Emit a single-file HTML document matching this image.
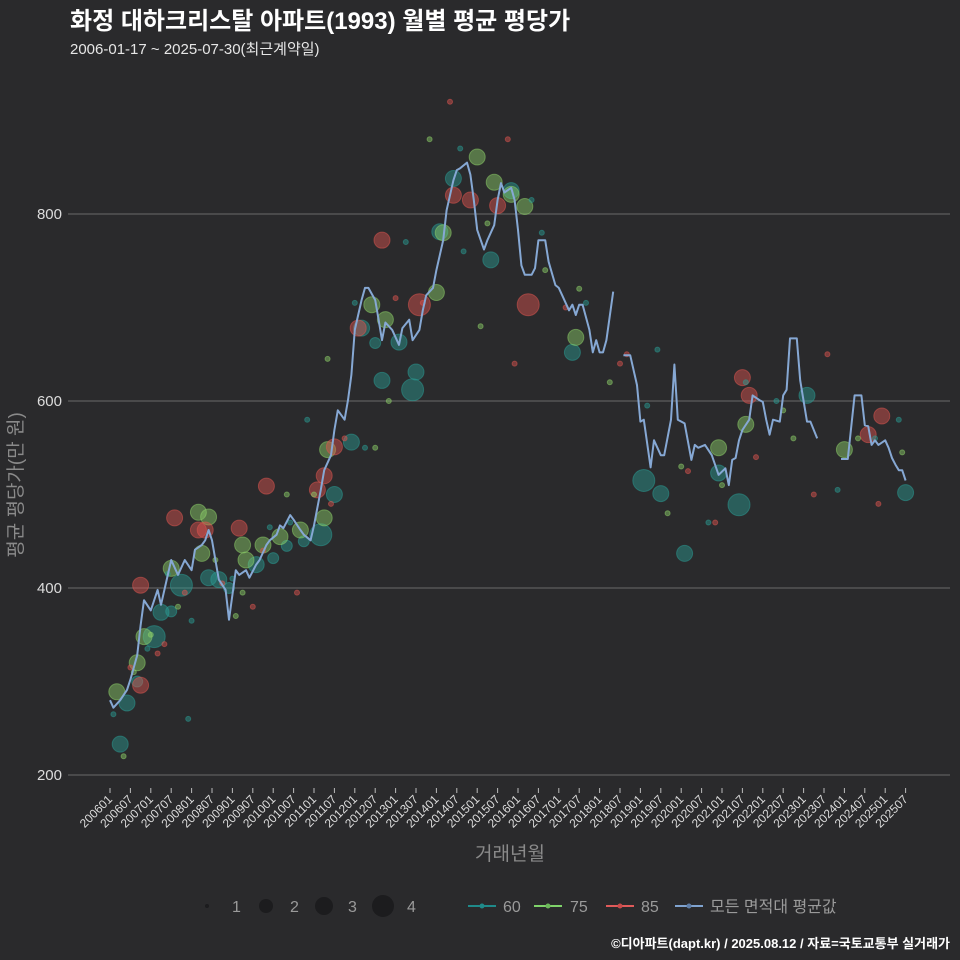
<!DOCTYPE html>
<html><head><meta charset="utf-8"><style>
html,body{margin:0;padding:0;background:#2a2a2c;}
svg{display:block;font-family:"Liberation Sans","Noto Sans CJK KR",sans-serif;}
</style></head><body>
<svg id="chart" width="960" height="960" viewBox="0 0 960 960" xmlns="http://www.w3.org/2000/svg">
<rect width="960" height="960" fill="#2a2a2c"/>
<text x="70" y="29" fill="#ffffff" font-size="24" font-weight="bold">화정 대하크리스탈 아파트(1993) 월별 평균 평당가</text>
<text x="70" y="54" fill="#e6e6e6" font-size="15">2006-01-17 ~ 2025-07-30(최근계약일)</text>
<g id="grid"></g>
<g id="yaxis"></g>
<g id="xaxis"></g>
<g id="dots"></g>
<g id="line"></g>
<text transform="translate(22,485) rotate(-90)" text-anchor="middle" fill="#8a8a8a" font-size="19">평균 평당가(만 원)</text>
<text x="510" y="860" text-anchor="middle" fill="#8a8a8a" font-size="19">거래년월</text>
<g font-size="16" fill="#9a9a9a">
  <circle cx="207" cy="906" r="2" fill="#1c1c1e"/><text x="232" y="912">1</text>
  <circle cx="266" cy="906" r="7" fill="#1c1c1e"/><text x="290" y="912">2</text>
  <circle cx="324" cy="906" r="9" fill="#1c1c1e"/><text x="348" y="912">3</text>
  <circle cx="383" cy="906" r="11" fill="#1c1c1e"/><text x="407" y="912">4</text>
  <line x1="468" y1="906" x2="496" y2="906" stroke="#1f8a8a" stroke-width="2"/><circle cx="482" cy="906" r="2.5" fill="#1f8a8a"/><text x="503" y="912">60</text>
  <line x1="534" y1="906" x2="562" y2="906" stroke="#7fd36a" stroke-width="2"/><circle cx="548" cy="906" r="2.5" fill="#6cb85a"/><text x="570" y="912">75</text>
  <line x1="606" y1="906" x2="634" y2="906" stroke="#e05a5a" stroke-width="2"/><circle cx="620" cy="906" r="2.5" fill="#c84a4a"/><text x="641" y="912">85</text>
  <line x1="675" y1="906" x2="703" y2="906" stroke="#7fa3d0" stroke-width="2"/><circle cx="689" cy="906" r="2.5" fill="#5f7ea8"/><text x="710" y="912">모든 면적대 평균값</text>
</g>
<text x="950" y="948" text-anchor="end" fill="#ffffff" font-size="13" font-weight="bold">©디아파트(dapt.kr) / 2025.08.12 / 자료=국토교통부 실거래가</text>
</svg>
<script>
const yTicks=[200,400,600,800];
const xTickLabels=[];for(let y=2006;y<=2025;y++){xTickLabels.push(y+'01');xTickLabels.push(y+'07');}
const lineMonths=[0,1,3,5,6,8,9,10,12,14,15,16,18,20,22,24,25,27,28,29,30,32,34,35,37,38,40,41,43,44,46,47,49,50,51,53,54,56,57,59,60,62,63,65,66,67,69,70,71,72,74,75,76,78,79,80,81,83,85,86,88,89,91,92,93,95,96,98,99,101,102,103,105,106,107,108,110,111,113,114,115,116,118,119,120,121,122,124,125,126,128,129,131,132,133,135,136,137,138,139,141,142,143,144,145,146,148,149,151,153,155,156,157,159,160,162,163,165,166,167,169,171,172,173,175,177,179,181,182,183,184,185,186,188,189,191,192,193,194,195,197,198,199,200,202,203,205,206,208,210,215,217,219,221,222,223,224,225,226,228,229,230,231,232,233,234];
const lineValues=[280,272,280,291,302,328,360,387,376,398,382,398,430,414,430,419,441,446,451,462,451,409,398,366,419,414,419,411,425,430,446,451,457,467,464,478,473,462,457,451,467,505,526,542,569,590,580,601,628,676,708,721,721,708,687,665,684,676,660,678,687,665,676,697,713,721,740,772,804,836,847,849,855,842,815,783,762,772,788,815,833,823,828,815,783,745,735,735,742,772,772,749,724,721,713,697,703,692,703,703,676,652,665,652,652,665,717,null,649,649,617,578,580,529,558,542,542,580,639,580,576,537,553,550,553,542,521,528,510,537,539,558,569,580,606,601,599,580,564,580,578,606,612,667,667,622,578,578,560,null,538,538,606,606,574,573,553,558,553,558,550,539,532,526,526,515];
const dotMonths=[3,5,8,13,15,18,21,29,32,35,43,48,52,57,62,66,71,74,78,80,89,90,85,97,101,112,118,136,157,162,169,179,185,205,234,
2,8,10,18,26,29,27,39,40,45,50,56,63,64,77,81,96,98,108,113,118,122,137,179,187,216,
9,9,19,26,28,38,46,61,63,66,73,80,91,101,106,114,123,186,188,223,227,
1,4,6,11,12,14,17,20,22,24,31,33,36,39,42,47,52,55,58,64,69,72,78,84,87,94,100,103,109,117,124,128,134,140,147,152,158,164,170,176,180,190,196,201,207,214,220,226,232,7,16,23,37,45,53,60,65,75,82,92,104,111,119,127,138,150,161,168,178,187,198,211,225,233];
const dotValues=[233,277,300,348,374,375,403,411,409,400,425,432,445,450,457,500,556,678,662,622,612,631,663,781,838,751,825,652,515,501,437,523,489,606,502,
289,320,348,421,481,476,437,446,430,446,455,462,475,548,703,687,716,780,861,834,821,808,668,550,575,548,
403,296,475,462,462,464,509,505,520,551,678,772,703,820,815,809,703,625,606,564,584,
265,220,315,335,350,330,415,380,395,365,430,405,410,395,380,465,500,395,580,645,560,705,550,710,770,880,920,870,680,880,815,740,700,705,620,650,595,480,525,470,510,540,600,560,500,505,560,490,580,310,340,260,370,440,470,500,490,550,600,705,760,790,640,780,720,640,655,530,470,620,590,650,560,545];
const dotSizes=[3,3,2,4,3,2,4,3,3,2,3,2,2,2,4,3,3,3,2,3,4,3,3,3,3,3,3,3,4,3,3,3,4,3,3,
3,3,3,3,3,3,3,3,3,3,3,3,3,3,3,3,3,3,3,3,3,3,3,3,3,3,
3,3,3,3,3,3,3,3,3,3,3,3,4,3,3,3,4,3,3,3,3,
1,1,1,1,1,1,1,1,1,1,1,1,1,1,1,1,1,1,1,1,1,1,1,1,1,1,1,1,1,1,1,1,1,1,1,1,1,1,1,1,1,1,1,1,1,1,1,1,1,1,1,1,1,1,1,1,1,1,1,1,1,1,1,1,1,1,1,1,1,1,1,1,1,1];
const dotTypes=[];
for(let i=0;i<35;i++)dotTypes.push('60');for(let i=0;i<26;i++)dotTypes.push('75');for(let i=0;i<21;i++)dotTypes.push('85');
for(let i=35+26+21;i<dotMonths.length;i++)dotTypes.push(['85','60','75'][i%3]);

const NS='http://www.w3.org/2000/svg';
const X=m=>110+m*3.4;
const Y=v=>775-(v-200)*0.935;
const colors={'60':'#2a9d95','75':'#8fd36a','85':'#e0554f'};
const radius={1:2.5,2:5.5,3:8,4:11};
function mk(tag,attrs,parent){const e=document.createElementNS(NS,tag);for(const k in attrs)e.setAttribute(k,attrs[k]);parent.appendChild(e);return e;}
const grid=document.getElementById('grid'),yax=document.getElementById('yaxis'),xax=document.getElementById('xaxis');
yTicks.forEach(t=>{
  const l=mk('line',{x1:68,x2:950,y1:Y(t),y2:Y(t),stroke:'#6a6a6a','stroke-width':1},grid);
  
  
  const tx=mk('text',{x:62,y:Y(t)+5,'text-anchor':'end',fill:'#dcdcdc','font-size':15},yax);
  
  
  tx.textContent=t;
});
xTickLabels.forEach((lab,i)=>{
  const x=X(i*6);
  const tk=mk('line',{x1:x,x2:x,y1:788,y2:793,stroke:'#bbbbbb','stroke-width':1},xax);
  
  
  const tx=mk('text',{x:x+3,y:800,'text-anchor':'end',fill:'#dcdcdc','font-size':12,transform:'rotate(-45 '+(x+3)+' 800)'},xax);
  
  
  tx.textContent=lab;
});
const dg=document.getElementById('dots');
dotMonths.forEach((m,i)=>{
  const c=colors[dotTypes[i]];
  const d=mk('circle',{cx:X(m),cy:Y(dotValues[i]),r:radius[dotSizes[i]],fill:c,'fill-opacity':0.45,stroke:c,'stroke-opacity':0.5,'stroke-width':1},dg);
  
  
});
const lg=document.getElementById('line');
let seg='';
lineMonths.forEach((m,i)=>{
  const v=lineValues[i];
  if(v===null){seg+='|';return;}
  seg+=(seg===''||seg.endsWith('|')?'M':'L')+X(m).toFixed(1)+','+Y(v).toFixed(1)+' ';
});
const p=mk('path',{d:seg.replace(/\|/g,''),fill:'none',stroke:'#86a8d4','stroke-width':2,'stroke-linejoin':'round'},lg);


</script>
</body></html>
